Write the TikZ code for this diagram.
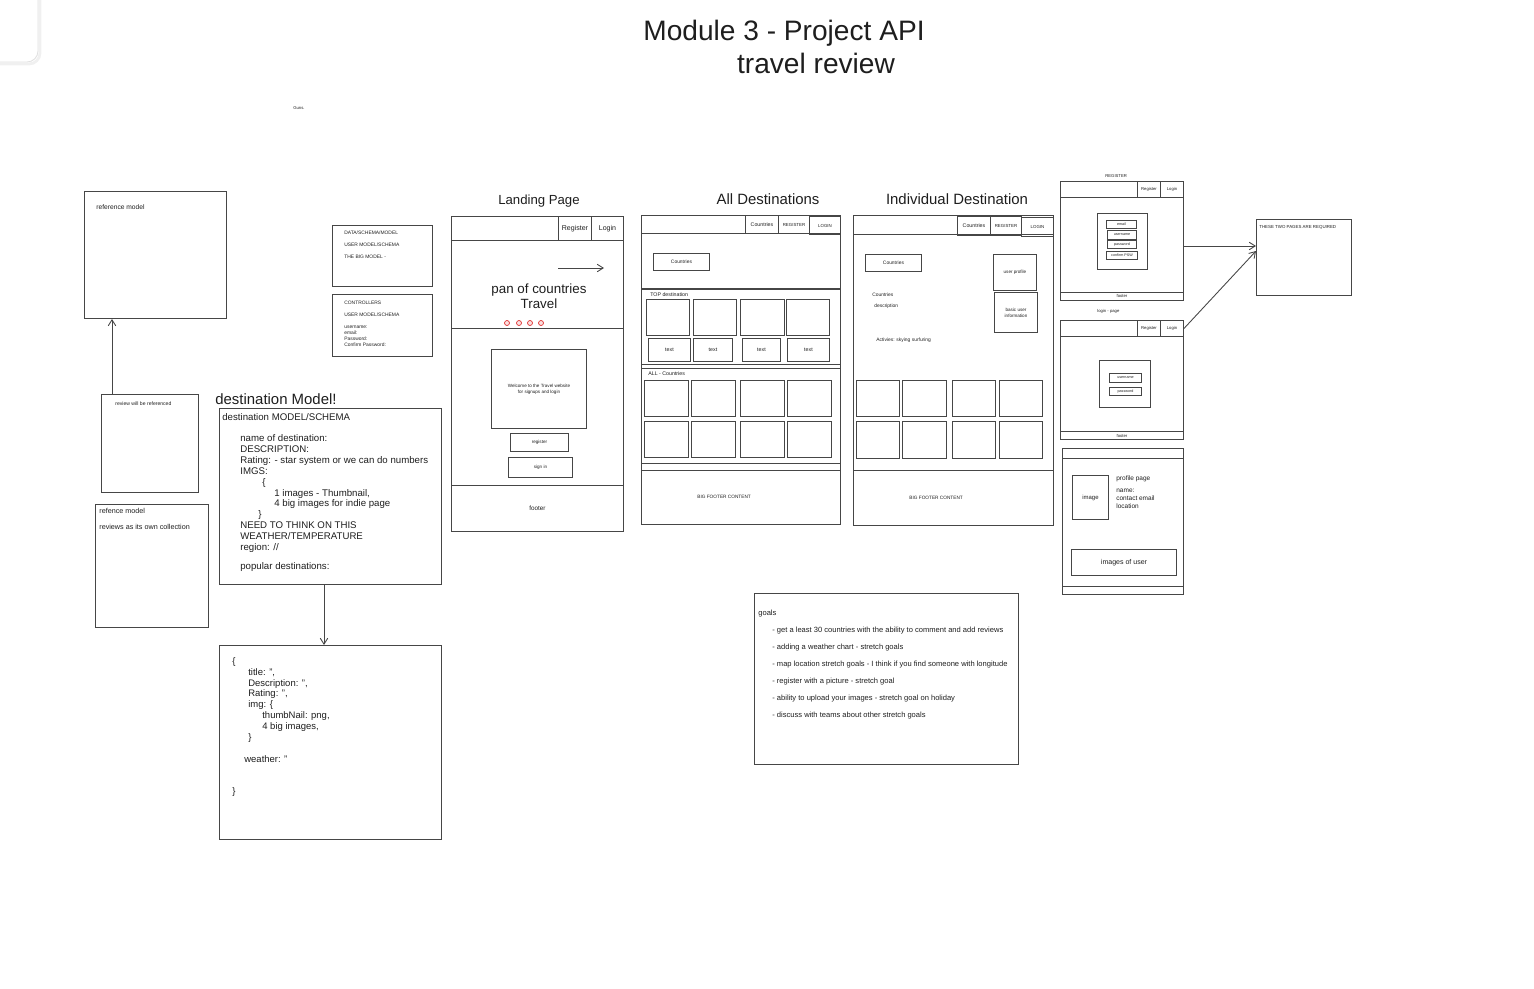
\documentclass[tikz,border=0pt]{standalone}
\usepackage{fontspec}
\setmainfont{Liberation Sans}
\usepackage{tikz}
\usetikzlibrary{arrows.meta, positioning}
\definecolor{sketch-ink}{RGB}{30,30,30}
\definecolor{sketch-line}{RGB}{70,70,70}
\definecolor{dot-red}{RGB}{224,49,49}
\newdimen\pxpt \pxpt=0.569pt
\newcommand{\ind}[1]{\hspace*{#1\pxpt}}

\begin{document}
\begin{tikzpicture}[
    x=0.02cm, y=-0.02cm,
    %% box size, in px of the sketch
    wh/.style 2 args = {minimum width=#1*0.02cm, minimum height=#2*0.02cm},
    fs/.style   = {font=\fontsize{#1}{#1}\selectfont},
    %% plain sketch box (placed by its top left corner)
    sbox/.style = {rectangle, draw=sketch-line, line width=0.55pt,
                   inner sep=0pt, anchor=north west},
    %% box with a centred label
    btn/.style  = {sbox, text=sketch-ink, align=center, fs=3},
    %% headings
    ttl/.style  = {font=\fontsize{16}{19}\selectfont, text=sketch-ink, inner sep=0pt},
    phead/.style = {font=\fontsize{7.5}{9}\selectfont, text=sketch-ink, inner sep=0pt},
    %% small notes written in boxes
    tnote/.style = {font=\fontsize{3.8}{4.6}\selectfont, text=sketch-ink,
                    inner sep=0pt, anchor=west, align=left},
    block/.style = {text=sketch-ink, inner sep=0pt, anchor=north west, align=left},
    arr/.style  = {-{Straight Barb[length=0.12cm, width=0.15cm]}, line width=0.5pt, color=sketch-line},
    cdot/.style = {circle, draw=dot-red, fill=dot-red!15, line width=0.4pt,
                   minimum size=0.1cm, inner sep=0pt},
]

\useasboundingbox (0,0) rectangle (1534,988);

%% ---- canvas corner panel ----
\draw[black!6, line width=1.6pt, rounded corners=0.22cm] (40,-20) -- (40,64) -- (-20,64);
\draw[black!12, line width=0.5pt, rounded corners=0.22cm] (38,-20) -- (38,62) -- (-20,62);

%% ---- Title ----
\node[ttl] (title)    at (784,33) {Module 3 - Project API};
\node[ttl] (subtitle) at (816,63) {travel review};
\node[tnote, fs=2.4] (guns) at (293,108) {Guns.};

%% ---- Left column: review models ----
\node[sbox, wh={142}{127}] (refa) at (84,191) {};
\node[tnote] (refatxt) at (96,207) {reference model};

\node[sbox, wh={97}{98}] (revbox) at (101,394) {};
\node[tnote, fs=2.9] (revtxt) at (115,404) {review will be referenced};

\node[sbox, wh={113}{123}] (refb) at (95,504) {};
\node[tnote, fs=4.1] (refbtxt)  at (99,511) {refence model};
\node[tnote, fs=4.1] (refbtxt2) at (99,527) {reviews as its own collection};

%% review -> reference model
\coordinate (revtop) at (112,394);
\draw[arr] (revtop) -- (revtop |- refa.south);

%% ---- Schema notes ----
\node[sbox, wh={100}{61}] (datab) at (332,225) {};
\node[block, font=\fontsize{2.8}{6.8}\selectfont] (datatxt) at (344,231)
    {DATA/SCHEMA/MODEL\\USER MODEL/SCHEMA\\THE BIG MODEL -};

\node[sbox, wh={100}{62}] (ctrlb) at (332,294) {};
\node[block, font=\fontsize{2.8}{3.4}\selectfont] (ctrltxt) at (344,301)
    {CONTROLLERS\\[3.4pt]USER MODEL/SCHEMA\\[3.4pt]username:\\email:\\Password:\\Confirm Password:};

%% ---- destination model ----
\node[phead, anchor=west, fs=8.5] (destttl) at (215,399) {destination Model!};
\node[sbox, wh={222}{176}] (schema) at (219,408) {};
\node[block, font=\fontsize{5.5}{6.15}\selectfont] (schematxt) at (222,413)
    {destination MODEL/SCHEMA\\[6.15pt]
     \ind{18}name of destination:\\
     \ind{18}DESCRIPTION:\\
     \ind{18}Rating: - star system or we can do numbers\\
     \ind{18}IMGS:\\
     \ind{40}\{\\
     \ind{52}1 images - Thumbnail,\\
     \ind{52}4 big images for indie page\\
     \ind{36}\}\\
     \ind{18}NEED TO THINK ON THIS\\
     \ind{18}WEATHER/TEMPERATURE\\
     \ind{18}region: //\\[5pt]
     \ind{18}popular destinations:};

\node[sbox, wh={222}{194}] (json) at (219,645) {};
\node[block, font=\fontsize{5.4}{6.2}\selectfont] (jsontxt) at (232,657)
    {\{\\
     \ind{16}title: '',\\
     \ind{16}Description: '',\\
     \ind{16}Rating: '',\\
     \ind{16}img: \{\\
     \ind{30}thumbNail: png,\\
     \ind{30}4 big images,\\
     \ind{16}\}\\[6.2pt]
     \ind{12}weather: ''\\[12pt]
     \}};

%% schema -> json
\coordinate (sjtop) at (324,584);
\draw[arr] (sjtop) -- (sjtop |- json.north);

%% ---- Landing Page ----
\node[phead] (landttl) at (539,201) {Landing Page};
\node[sbox, wh={172}{315}] (landing) at (451,216) {};
\node[sbox, wh={172}{24}] (landhdr) at (451,216) {};
\node[btn, wh={33}{24}, fs=4] (landreg) at (558,216) {Register};
\node[btn, wh={32}{24}, fs=4] (landlog) at (591,216) {Login};

\node[sbox, wh={172}{88}] (hero) at (451,240) {};
\coordinate (heroa) at (558,268);
\coordinate (herob) at (604,268);
\draw[arr] (heroa) -- (herob);
\node[phead, align=center, font=\fontsize{7.6}{8.5}\selectfont] (herotxt) at (539,296)
    {pan of countries\\Travel};
\node[cdot] (dota) at (507,323) {};
\node[cdot] (dotb) at (519,323) {};
\node[cdot] (dotc) at (530,323) {};
\node[cdot] (dotd) at (541,323) {};

\node[btn, wh={95}{79}, font=\fontsize{2.6}{3.4}\selectfont] (welcome) at (491,349)
    {Welcome to the Travel website\\for signups and login};
\node[btn, wh={58}{18}, fs=2.6] (regbtn)  at (510,433) {register};
\node[btn, wh={64}{20}, fs=2.6] (signbtn) at (508,457) {sign in};
\node[btn, wh={172}{46}, fs=3.6] (landfoot) at (451,485) {footer};

%% ---- All Destinations ----
\node[phead, fs=8.5] (allttl) at (768,199) {All Destinations};
\node[sbox, wh={199}{309}] (alldest) at (641,215) {};
\node[sbox, wh={199}{18}] (allhdr) at (641,215) {};
\node[btn, wh={33}{18}] (allcty) at (745,215) {Countries};
\node[btn, wh={31}{18}, fs=2.5] (allreg) at (778,215) {REGISTER};
\node[btn, wh={31}{18}, fs=2.5] (alllog) at (809,216) {LOGIN};

\node[sbox, wh={199}{55}] (allsec) at (641,233) {};
\node[btn, wh={56}{17}, fs=2.8] (allctybox) at (653,253) {Countries};

\node[sbox, wh={199}{75}] (topsec) at (641,289) {};
\node[tnote, fs=3] (toptxt) at (650,295) {TOP destination};
\node[sbox, wh={43}{36}] (topa) at (646,299) {};
\node[sbox, wh={43}{36}] (topb) at (693,299) {};
\node[sbox, wh={44}{36}] (topc) at (740,299) {};
\node[sbox, wh={43}{36}] (topd) at (786,299) {};
\node[btn, wh={42}{23}] (toptxa) at (648,338) {text};
\node[btn, wh={39}{23}] (toptxb) at (693,338) {text};
\node[btn, wh={38}{23}] (toptxc) at (742,338) {text};
\node[btn, wh={42}{23}] (toptxd) at (787,338) {text};

\node[sbox, wh={199}{95}] (ctysec) at (641,368) {};
\node[tnote, fs=3] (ctytxt) at (648,374) {ALL - Countries};
\node[sbox, wh={44}{36}] (ctya) at (644,380) {};
\node[sbox, wh={44}{36}] (ctyb) at (691,380) {};
\node[sbox, wh={44}{36}] (ctyc) at (740,380) {};
\node[sbox, wh={44}{36}] (ctyd) at (787,380) {};
\node[sbox, wh={44}{36}] (ctye) at (644,421) {};
\node[sbox, wh={44}{36}] (ctyf) at (691,421) {};
\node[sbox, wh={44}{36}] (ctyg) at (740,421) {};
\node[sbox, wh={44}{36}] (ctyh) at (787,421) {};

\node[sbox, wh={199}{54}] (allfoot) at (641,470) {};
\node[tnote, fs=2.7] (allfoottxt) at (697,497) {BIG FOOTER CONTENT};

%% ---- Individual Destination ----
\node[phead, fs=8.5] (indttl) at (957,199) {Individual Destination};
\node[sbox, wh={200}{310}] (inddest) at (853,215) {};
\node[sbox, wh={200}{19}] (indhdr) at (853,215) {};
\node[btn, wh={33}{19}] (indcty) at (957,216) {Countries};
\node[btn, wh={31}{19}, fs=2.5] (indreg) at (990,216) {REGISTER};
\node[btn, wh={32}{19}, fs=2.5] (indlog) at (1021,217) {LOGIN};

\node[btn, wh={56}{17}, fs=2.8] (indctybox) at (865,254) {Countries};
\node[btn, wh={43}{36}, fs=2.6] (userprof) at (993,254) {user profile};
\node[btn, wh={43}{40}, font=\fontsize{2.6}{3.4}\selectfont] (userinfo) at (994,292)
    {basic user\\information};
\node[tnote, fs=2.8] (indctytxt) at (872,295) {Countries};
\node[tnote, fs=2.8] (inddesc)   at (874,306) {description};
\node[tnote, fs=2.8] (indact)    at (876,340) {Activies: skying surfuring};

\node[sbox, wh={43}{36}] (imga) at (856,380) {};
\node[sbox, wh={44}{36}] (imgb) at (902,380) {};
\node[sbox, wh={43}{36}] (imgc) at (952,380) {};
\node[sbox, wh={43}{36}] (imgd) at (999,380) {};
\node[sbox, wh={43}{37}] (imge) at (856,421) {};
\node[sbox, wh={44}{37}] (imgf) at (902,421) {};
\node[sbox, wh={43}{37}] (imgg) at (952,421) {};
\node[sbox, wh={43}{37}] (imgh) at (999,421) {};

\node[sbox, wh={200}{55}] (indfoot) at (853,470) {};
\node[tnote, fs=2.7] (indfoottxt) at (909,498) {BIG FOOTER CONTENT};

%% ---- Register / Login / Profile ----
\node[tnote, fs=2.4] (regttl) at (1105,176) {REGISTER};
\node[sbox, wh={123}{119}] (regpage) at (1060,181) {};
\node[sbox, wh={123}{16}] (reghdr) at (1060,181) {};
\node[btn, wh={23}{16}, fs=2.4] (regreg) at (1137,181) {Register};
\node[btn, wh={23}{16}, fs=2.4] (reglog) at (1160,181) {Login};
\node[sbox, wh={50}{56}] (regform) at (1097,213) {};
\node[btn, wh={30}{8}, fs=2.1] (regmail) at (1106,220) {email};
\node[btn, wh={29}{9}, fs=2.1] (reguser) at (1107,230) {username};
\node[btn, wh={29}{8}, fs=2.1] (regpass) at (1107,240) {password};
\node[btn, wh={31}{8}, fs=2.1] (regconf) at (1106,251) {confirm PSW};
\node[btn, wh={123}{8}, fs=2.4] (regfoot) at (1060,292) {footer};

\node[tnote, fs=2.4] (logttl) at (1097,311) {login - page};
\node[sbox, wh={123}{119}] (logpage) at (1060,320) {};
\node[sbox, wh={123}{16}] (loghdr) at (1060,320) {};
\node[btn, wh={23}{16}, fs=2.4] (logreg) at (1137,320) {Register};
\node[btn, wh={23}{16}, fs=2.4] (loglog) at (1160,320) {Login};
\node[sbox, wh={51}{47}] (logform) at (1099,360) {};
\node[btn, wh={32}{9}, fs=2.1] (loguser) at (1109,373) {username};
\node[btn, wh={32}{8}, fs=2.1] (logpass) at (1109,387) {password};
\node[btn, wh={123}{8}, fs=2.4] (logfoot) at (1060,431) {footer};

\node[sbox, wh={121}{146}] (profpage) at (1062,448) {};
\node[sbox, wh={121}{10}] (profhdr) at (1062,448) {};
\node[btn, wh={36}{44}, fs=3.4] (profimg) at (1072,475) {image};
\node[block, font=\fontsize{3.7}{4.5}\selectfont] (proftxt) at (1116,475)
    {profile page\\[2.5pt]name:\\contact email\\location};
\node[btn, wh={105}{26}, fs=4] (profimgs) at (1071,549) {images of user};
\node[sbox, wh={121}{8}] (proffoot) at (1062,586) {};

%% ---- required pages ----
\node[sbox, wh={95}{76}] (reqbox) at (1256,219) {};
\node[tnote, fs=2.5] (reqtxt) at (1259,227) {THESE TWO PAGES ARE REQUIRED};

\coordinate (reqin)  at (1256,246);
\coordinate (reqin2) at (1256,251);
\draw[arr] (reqin -| regpage.east) -- (reqin);
\draw[arr] (loglog.east) -- (reqin2);

%% ---- goals ----
\node[sbox, wh={264}{171}] (goals) at (754,593) {};
\node[block, font=\fontsize{4.3}{9.67}\selectfont] (goalstxt) at (758,610)
    {goals\\
     \ind{14}- get a least 30 countries with the ability to comment and add reviews\\
     \ind{14}- adding a weather chart - stretch goals\\
     \ind{14}- map location stretch goals - I think if you find someone with longitude\\
     \ind{14}- register with a picture - stretch goal\\
     \ind{14}- ability to upload your images - stretch goal on holiday\\
     \ind{14}- discuss with teams about other stretch goals};

\end{tikzpicture}
\end{document}
